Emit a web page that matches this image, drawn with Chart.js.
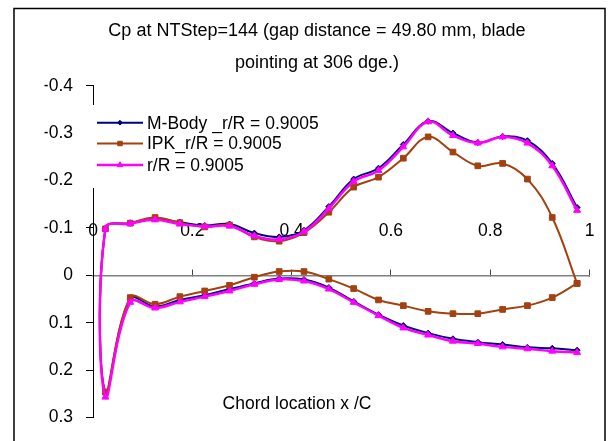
<!DOCTYPE html>
<html>
<head>
<meta charset="utf-8">
<script src="https://cdn.jsdelivr.net/npm/chart.js@4/dist/chart.umd.min.js"></script>
<style>
  html, body { margin: 0; padding: 0; background: #fff; }
</style>
</head>
<body>
<canvas id="chart" width="609" height="441"></canvas>
<script>
// chord positions x/C of the taps (leading edge -> trailing edge)
const xC = [0.025, 0.075, 0.125, 0.175, 0.225, 0.275, 0.325, 0.375, 0.425, 0.475,
            0.525, 0.575, 0.625, 0.675, 0.725, 0.775, 0.825, 0.875, 0.925, 0.975];

// M-Body
const mBodyUpper = [-0.098, -0.110, -0.119, -0.112, -0.105, -0.108, -0.089, -0.081, -0.095, -0.145,
                    -0.203, -0.226, -0.276, -0.325, -0.300, -0.280, -0.293, -0.284, -0.236, -0.143];
const mBodyLower = [0.250, 0.050, 0.066, 0.052, 0.042, 0.029, 0.017, 0.007, 0.009, 0.026,
                    0.055, 0.083, 0.106, 0.122, 0.134, 0.141, 0.146, 0.152, 0.154, 0.158];

// IPK
const ipkUpper = [-0.098, -0.110, -0.122, -0.111, -0.102, -0.106, -0.081, -0.072, -0.090, -0.133,
                  -0.186, -0.207, -0.247, -0.292, -0.260, -0.231, -0.236, -0.203, -0.122, 0.017];
const ipkLower = [0.246, 0.047, 0.061, 0.045, 0.033, 0.021, 0.004, -0.008, -0.008, 0.008,
                  0.028, 0.052, 0.064, 0.076, 0.081, 0.081, 0.072, 0.064, 0.047, 0.017];

// r/R
const rrUpper = [-0.098, -0.109, -0.117, -0.108, -0.103, -0.104, -0.083, -0.076, -0.092, -0.141,
                 -0.198, -0.221, -0.271, -0.324, -0.295, -0.279, -0.292, -0.279, -0.231, -0.137];
const rrLower = [0.257, 0.057, 0.069, 0.056, 0.045, 0.033, 0.019, 0.009, 0.012, 0.029,
                 0.057, 0.085, 0.111, 0.126, 0.139, 0.144, 0.151, 0.155, 0.160, 0.163];

const seriesNames = ["M-Body _r/R = 0.9005", "IPK_r/R = 0.9005", "r/R = 0.9005"];
const xTicks = [0, 0.2, 0.4, 0.6, 0.8, 1];
const yTicks = [-0.4, -0.3, -0.2, -0.1, 0, 0.1, 0.2, 0.3];

const FONT = "'Liberation Sans', Arial, sans-serif";
const TITLE_SIZE = 18;
const TEXT_SIZE = 17.5;

// upper surface from TE to LE, then lower surface from LE to TE
function loop(upper, lower) {
    const pts = [];
    for (let i = upper.length - 1; i >= 0; i--) pts.push({ x: xC[i], y: upper[i] });
    for (let i = 0; i < lower.length; i++) pts.push({ x: xC[i], y: lower[i] });
    return pts;
}

function marker(ctx, style, x, y, r) {
    ctx.beginPath();
    if (style === "rect") {
        const s = r * Math.SQRT1_2;
        ctx.rect(x - s, y - s, 2 * s, 2 * s);
    } else if (style === "rectRot") {
        ctx.moveTo(x - r, y); ctx.lineTo(x, y - r); ctx.lineTo(x + r, y); ctx.lineTo(x, y + r);
        ctx.closePath();
    } else {
        for (let k = 0; k < 3; k++) {
            const a = k * 2 * Math.PI / 3;
            const px = x + Math.sin(a) * r, py = y - Math.cos(a) * r;
            k === 0 ? ctx.moveTo(px, py) : ctx.lineTo(px, py);
        }
        ctx.closePath();
    }
    ctx.fill();
    ctx.stroke();
}

// white page, outer frame, legend box and x-axis title
const decorations = {
    id: "decorations",
    beforeDraw(chart) {
        const ctx = chart.ctx;
        ctx.save();
        ctx.fillStyle = "#fff";
        ctx.fillRect(0, 0, chart.width, chart.height);
        ctx.restore();
    },
    afterDraw(chart) {
        const ctx = chart.ctx;
        ctx.save();
        // legend
        ctx.fillStyle = "#fff";
        ctx.fillRect(84, 105, 251, 83);
        const rows = [122.7, 143.5, 165];
        chart.data.datasets.forEach((ds, i) => {
            const y = rows[i];
            ctx.strokeStyle = ds.borderColor;
            ctx.lineWidth = ds.borderWidth;
            ctx.beginPath();
            ctx.moveTo(97, y);
            ctx.lineTo(143, y);
            ctx.stroke();
            ctx.fillStyle = ds.pointBackgroundColor;
            ctx.lineWidth = 1;
            marker(ctx, ds.pointStyle, 120, y, ds.pointRadius * 0.8);
            ctx.fillStyle = "#000";
            ctx.font = TEXT_SIZE + "px " + FONT;
            ctx.textAlign = "left";
            ctx.textBaseline = "middle";
            ctx.fillText(seriesNames[i], 147, y + 1);
        });
        // axis title
        ctx.fillStyle = "#000";
        ctx.font = TEXT_SIZE + "px " + FONT;
        ctx.textAlign = "center";
        ctx.textBaseline = "middle";
        ctx.fillText("Chord location x /C", 297, 404);
        // frame
        ctx.strokeStyle = "#000";
        ctx.lineWidth = 1.5;
        ctx.strokeRect(14, 8.5, 591, 440);
        ctx.restore();
    }
};

const tickFmt = v => String(Math.round(v * 10) / 10);

const chart = new Chart(document.getElementById("chart"), {
    type: "scatter",
    data: {
        datasets: [
            {
                label: seriesNames[0],
                data: loop(mBodyUpper, mBodyLower),
                showLine: true,
                borderColor: "#000080",
                backgroundColor: "#000080",
                pointBackgroundColor: "#000080",
                borderWidth: 2,
                pointStyle: "rectRot",
                pointRadius: 3,
                pointBorderWidth: 1,
                tension: 0.4,
                order: 3
            },
            {
                label: seriesNames[1],
                data: loop(ipkUpper, ipkLower),
                showLine: true,
                borderColor: "#A34110",
                backgroundColor: "#A34110",
                pointBackgroundColor: "#A34110",
                borderWidth: 2,
                pointStyle: "rect",
                pointRadius: 4,
                pointBorderWidth: 1,
                tension: 0.4,
                order: 2
            },
            {
                label: seriesNames[2],
                data: loop(rrUpper, rrLower),
                showLine: true,
                borderColor: "#FF00FF",
                backgroundColor: "#FF00FF",
                pointBackgroundColor: "#FF00FF",
                borderWidth: 2.5,
                pointStyle: "triangle",
                pointRadius: 4,
                pointBorderWidth: 1,
                tension: 0.4,
                order: 1
            }
        ]
    },
    options: {
        responsive: false,
        animation: false,
        layout: { padding: { left: 44.5, right: 19.5, top: 0, bottom: 22 } },
        plugins: {
            legend: { display: false },
            tooltip: { enabled: false },
            title: {
                display: true,
                text: ["Cp at NTStep=144 (gap distance = 49.80 mm, blade", "pointing at 306 dge.)"],
                color: "#000",
                font: { family: FONT, size: TITLE_SIZE, weight: "normal", lineHeight: 32 / TITLE_SIZE },
                padding: { top: 15.5, bottom: 6.2 }
            }
        },
        scales: {
            x: {
                type: "linear",
                position: { y: 0 },
                min: 0,
                max: 1,
                afterBuildTicks: s => { s.ticks = xTicks.map(v => ({ value: v })); },
                ticks: {
                    color: "#000",
                    font: { family: FONT, size: TEXT_SIZE, lineHeight: 1.2 },
                    padding: -(276.7 - 233 - 7 + TEXT_SIZE * 0.6),
                    maxRotation: 0,
                    autoSkip: false,
                    callback: tickFmt
                },
                grid: { drawOnChartArea: false, drawTicks: true, tickLength: -7, color: "#444", lineWidth: 1 },
                border: { color: "#808080", width: 1.5 }
            },
            y: {
                type: "linear",
                reverse: true,
                min: -0.4,
                max: 0.3,
                afterBuildTicks: s => { s.ticks = yTicks.map(v => ({ value: v })); },
                afterFit: s => { s.width = 48.5; },
                ticks: {
                    color: "#000",
                    font: { family: FONT, size: TEXT_SIZE },
                    padding: 13,
                    autoSkip: false,
                    callback: tickFmt
                },
                grid: { drawOnChartArea: false, tickLength: 7, color: "#000", lineWidth: 1 },
                border: { color: "#000", width: 1 }
            }
        }
    },
    plugins: [decorations]
});
</script>
</body>
</html>
